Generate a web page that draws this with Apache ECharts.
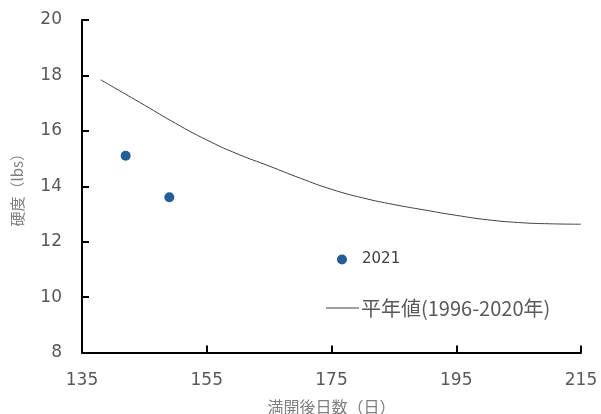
<!DOCTYPE html>
<html>
<head>
<meta charset="utf-8">
<script src="https://cdn.jsdelivr.net/npm/echarts@6/dist/echarts.min.js"></script>
<style>
  html, body { margin: 0; padding: 0; background: #fff; }
  #chart { width: 601px; height: 414px; }
</style>
</head>
<body>
<div id="chart"></div>
<script>
// Days after full bloom vs. fruit firmness
const days2021 = [142, 149];
const firmness2021 = [15.1, 13.6];

const normalDays = [138, 140, 145, 150, 155, 160, 165, 170, 175, 180, 185, 190, 195, 200, 205, 210, 215];
const normalFirmness = [17.84, 17.58, 16.93, 16.27, 15.67, 15.16, 14.73, 14.29, 13.89, 13.58, 13.34, 13.14, 12.95, 12.79, 12.69, 12.645, 12.63];

const xTicks = [135, 155, 175, 195, 215];
const yTicks = [8, 10, 12, 14, 16, 18, 20];

const seriesNames = ['2021', '平年値(1996-2020年)'];

const chart = echarts.init(document.getElementById('chart'));
const font = 'DejaVu Sans';
const cjk = 'Noto Sans CJK JP';

chart.setOption({
  animation: false,
  grid: { left: 82, right: 20, top: 20, bottom: 61.5, outerBoundsMode: 'none', containLabel: false },
  xAxis: {
    type: 'value',
    min: xTicks[0], max: xTicks[xTicks.length - 1], interval: 20,
    name: '満開後日数（日）',
    nameLocation: 'middle', nameGap: 46,
    nameTextStyle: { color: '#7f7f7f', fontSize: 16, fontFamily: cjk },
    axisLine: { lineStyle: { color: '#000', width: 2 } },
    axisTick: { inside: true, length: 7, lineStyle: { color: '#000', width: 2 } },
    axisLabel: { color: '#595959', fontSize: 17, fontFamily: font, margin: 20 },
    splitLine: { show: false }
  },
  yAxis: {
    type: 'value',
    min: yTicks[0], max: yTicks[yTicks.length - 1], interval: 2,
    name: '硬度（lbs）',
    nameLocation: 'middle', nameGap: 57,
    nameTextStyle: { color: '#7f7f7f', fontSize: 15, fontFamily: cjk },
    axisLine: { show: true, lineStyle: { color: '#000', width: 2 } },
    axisTick: { show: true, inside: true, length: 7, lineStyle: { color: '#000', width: 2 } },
    axisLabel: { color: '#595959', fontSize: 17, fontFamily: font, margin: 20 },
    splitLine: { show: false }
  },
  legend: [
    {
      data: [{ name: seriesNames[0], icon: 'circle' }],
      left: 332, top: 247,
      itemWidth: 10, itemHeight: 10,
      textStyle: { color: '#404040', fontSize: 15, fontFamily: font, padding: [0, 0, 0, 10] }
    },
    {
      data: [{ name: seriesNames[1], icon: 'rect' }],
      left: 321, top: 293,
      itemWidth: 33, itemHeight: 1,
      textStyle: { color: '#595959', fontSize: 20, fontFamily: cjk, padding: [0, 0, 0, -3] }
    }
  ],
  series: [
    {
      name: seriesNames[0],
      type: 'scatter',
      symbol: 'circle',
      symbolSize: 10,
      itemStyle: { color: '#245e96', opacity: 1 },
      data: days2021.map((d, i) => [d, firmness2021[i]])
    },
    {
      name: seriesNames[1],
      type: 'line',
      smooth: true,
      symbol: 'none',
      lineStyle: { color: '#404040', width: 1 },
      itemStyle: { color: '#404040' },
      data: normalDays.map((d, i) => [d, normalFirmness[i]])
    }
  ]
});
</script>
</body>
</html>
